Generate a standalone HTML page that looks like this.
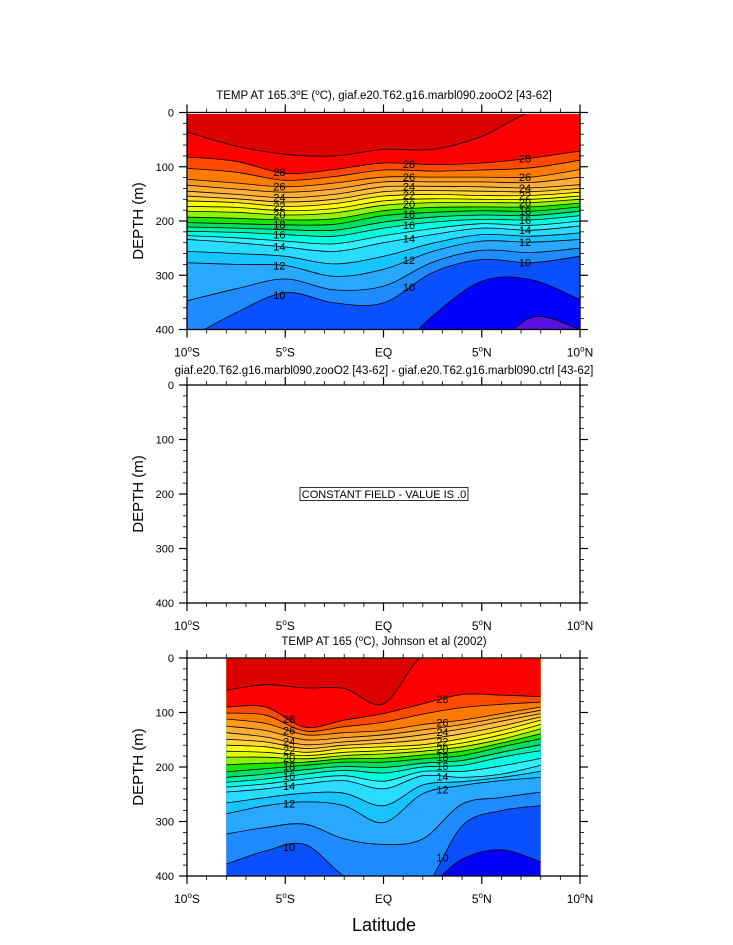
<!DOCTYPE html>
<html><head><meta charset="utf-8">
<style>
html,body{margin:0;padding:0;background:#fff;}
svg{display:block;font-family:"Liberation Sans",Arial,sans-serif;}
</style></head>
<body>
<svg id="fig" width="733" height="945" viewBox="0 0 733 945" xmlns="http://www.w3.org/2000/svg"></svg>
<script>
// ---------- data ----------
const modelLats = [-10,-7.5,-5,-2.5,0,2.5,5,7.5,10];
const obsLats = [-8,-6,-4,-2,0,2,4,6,8];
const contourLevels = [8,9,10,11,12,13,14,15,16,17,18,19,20,21,22,23,24,25,26,27,28,29];
// model isotherm depths (m) at modelLats
const mod8  = [520,520,520,520,520,520,460,378,400];
const mod9  = [480,480,480,480,460,375,311,308,345];
const mod10 = [418,369,332,351,351,295,271,277,265];
const mod11 = [347,325,307,327,320,276,254,258,250];
const mod12 = [277,280,282,302,289,256,237,239,234];
const mod13 = [256,260,265,279,265,241,225,228,222];
const mod14 = [234,240,248,256,240,225,213,217,209];
const mod15 = [227,231,237,242,227,214,205,208,200];
const mod16 = [219,221,225,228,213,202,197,198,190];
const mod17 = [211,213,216,217,202,193,189,190,182];
const mod18 = [203,205,207,206,190,184,181,182,174];
const mod19 = [193,195,198,196,181,175,174,174,167];
const mod20 = [182,184,189,185,171,166,166,166,160];
const mod21 = [173,175,181,177,163,159,160,160,154];
const mod22 = [163,166,173,168,154,151,153,153,147];
const mod23 = [154,159,165,160,146,144,145,146,140];
const mod24 = [145,151,157,151,137,136,137,139,133];
const mod25 = [134,141,147,141,128,128,128,129,119];
const mod26 = [123,130,137,130,119,119,119,119,105];
const mod27 = [103,110,125,118,106,108,106,102,88];
const mod28 = [82,90,112,105,93,96,93,84,71];
const mod29 = [36,62,77,80,68,68,44,0,0];
// observed isotherm depths (m) at obsLats
const obs8  = [440,440,440,440,440,440,440,440,440];
const obs9  = [430,430,430,430,430,425,369,352,374];
const obs10 = [378,354,342,400,425,425,308,280,271];
const obs11 = [323,311,305,332,342,332,268,256,246];
const obs12 = [286,271,264,271,302,249,234,225,219];
const obs13 = [266,256,248,248,271,233,227,219,208];
const obs14 = [246,240,231,225,240,216,219,213,197];
const obs15 = [237,231,222,216,226,208,208,198,184];
const obs16 = [228,222,213,206,211,200,197,182,170];
const obs17 = [219,213,205,199,201,193,188,173,159];
const obs18 = [209,203,197,191,191,185,179,163,148];
const obs19 = [196,193,191,185,184,178,171,156,139];
const obs20 = [182,182,185,179,176,171,163,149,130];
const obs21 = [171,173,179,173,170,165,156,141,122];
const obs22 = [160,163,173,166,163,159,148,133,114];
const obs23 = [149,154,166,160,156,150,139,125,108];
const obs24 = [137,145,159,154,149,141,130,116,102];
const obs25 = [125,133,150,146,141,132,122,109,96];
const obs26 = [112,120,141,137,133,122,114,102,90];
const obs27 = [101,105,134,126,118,103,91,85,81];
const obs28 = [90,90,127,114,102,84,67,68,71];
const obs29 = [59,49,55,56,84,-5,-5,-5,-5];
const bandColors = ['#0000ff','#0a50ff','#1e8cff','#28a8ff','#18c4ff','#28dcff','#30f0ff','#00ffe0','#00f0a8','#00e060','#18e800','#90f400','#e0ff00','#ffff00','#ffd830','#ffc040','#ffae38','#ff9a20','#ff7c00','#ff4a00','#ff0000','#dc0000'];
const coldColor = '#5a10e0';
const depthTicks = [0,100,200,300,400];
const latTicks = [-10,-5,0,5,10];
const latTickLabels = ['10°S','5°S','EQ','5°N','10°N'];
const modelLabelLevels = [28,26,24,22,20,18,16,14,12,10];
const modelLabelLats = [-5.3,1.3,7.2];
const obsLabelLevels = [28,26,24,22,20,18,16,14,12,10];
const obsLabelLats = [-4.8,3];
// ---------- rendering ----------
const NS='http://www.w3.org/2000/svg';
const svg=document.getElementById('fig');
const L=187,R=580;
function mk(tag,attrs,parent){const e=document.createElementNS(NS,tag);for(const k in attrs)e.setAttribute(k,attrs[k]);(parent||svg).appendChild(e);return e;}
function xScale(lat){return L+(lat+10)/20*(R-L);}
function makeY(top,bot){return d=>top+d/400*(bot-top);}
function interp(xs,ys,x){if(x<=xs[0])return ys[0];for(let i=1;i<xs.length;i++){if(x<=xs[i]){const t=(x-xs[i-1])/(xs[i]-xs[i-1]);return ys[i-1]+t*(ys[i]-ys[i-1]);}}return ys[ys.length-1];}
function smoothPath(pts){let d='M'+pts[0][0]+','+pts[0][1];for(let i=0;i<pts.length-1;i++){const p0=pts[Math.max(0,i-1)],p1=pts[i],p2=pts[i+1],p3=pts[Math.min(pts.length-1,i+2)];const c1=[p1[0]+(p2[0]-p0[0])/6,p1[1]+(p2[1]-p0[1])/6];const c2=[p2[0]-(p3[0]-p1[0])/6,p2[1]-(p3[1]-p1[1])/6];d+=' C'+c1[0].toFixed(1)+','+c1[1].toFixed(1)+' '+c2[0].toFixed(1)+','+c2[1].toFixed(1)+' '+p2[0].toFixed(1)+','+p2[1].toFixed(1);}return d;}

function axes(top,bot,prefix){
  const y=makeY(top,bot);
  const g=mk('g',{});  
  for(let d=0;d<=400;d+=20){const major=d%100===0;const len=major?8:4;const yy=y(d);
    mk('line',{x1:L-len,x2:L,y1:yy,y2:yy,stroke:'#000','stroke-width':major?1.2:0.8},g);
    mk('line',{x1:R,x2:R+len,y1:yy,y2:yy,stroke:'#000','stroke-width':major?1.2:0.8},g);}
  for(let lat=-10;lat<=10;lat+=1){const major=lat%5===0;const len=major?8:4;const xx=xScale(lat);
    mk('line',{x1:xx,x2:xx,y1:top-len,y2:top,stroke:'#000','stroke-width':major?1.2:0.8},g);
    mk('line',{x1:xx,x2:xx,y1:bot,y2:bot+len,stroke:'#000','stroke-width':major?1.2:0.8},g);}
  depthTicks.forEach(d=>{const t=mk('text',{x:L-13,y:y(d)+4,'text-anchor':'end','font-size':11},g);t.textContent=d;
    });
  latTicks.forEach((lat,i)=>{const t=mk('text',{x:xScale(lat),y:bot+27,'text-anchor':'middle','font-size':12},g);
    const s=latTickLabels[i];
    if(s.indexOf('°')>=0){const parts=s.split('°');const a=mk('tspan',{},t);a.textContent=parts[0];const b=mk('tspan',{dy:-5,'font-size':8},t);b.textContent='o';const c=mk('tspan',{dy:5},t);c.textContent=parts[1];}
    else t.textContent=s;
    });
  mk('rect',{x:L,y:top,width:R-L,height:bot-top,fill:'none',stroke:'#000','stroke-width':1.3},g);
  const yt=mk('text',{x:0,y:0,'text-anchor':'middle','font-size':15,transform:'translate(143,'+((top+bot)/2)+') rotate(-90)'},g);
  yt.textContent='DEPTH (m)';
  
}

function contourPanel(prefix,top,bot,lats,arrays,x0,x1,fillTopDepth,labelLevels,labelLats){
  const y=makeY(top,bot);
  const id='clip-'+prefix;
  const defs=mk('defs',{});const cp=mk('clipPath',{id:id},defs);
  mk('rect',{x:x0,y:y(fillTopDepth),width:x1-x0,height:bot-y(fillTopDepth)},cp);
  const g=mk('g',{'clip-path':'url(#'+id+')'});
  
  const bg=mk('rect',{x:x0,y:y(fillTopDepth),width:x1-x0,height:bot-y(fillTopDepth),fill:coldColor},g);
  
  const paths=[];
  contourLevels.forEach((lev,i)=>{
    const pts=lats.map((lat,j)=>[xScale(lat),y(Math.max(arrays[i][j],-5))]);
    const line=smoothPath(pts);
    paths.push(line);
    const xl=xScale(lats[0]),xr=xScale(lats[lats.length-1]);
    const d=line+' L'+xr+','+(top-20)+' L'+xl+','+(top-20)+' Z';
    const p=mk('path',{d:d,fill:bandColors[i],stroke:'none'},g);
    
  });
  paths.forEach((line,i)=>{const p=mk('path',{d:line,fill:'none',stroke:'#000','stroke-width':0.8},g);
    });
  labelLats.forEach(lat=>{labelLevels.forEach(lev=>{const i=contourLevels.indexOf(lev);
    const dd=interp(lats,arrays[i],lat);if(dd>395||dd<5)return;
    const t=mk('text',{x:xScale(lat),y:y(dd)+4,'text-anchor':'middle','font-size':11,fill:'#000'},g);t.textContent=lev;
    });});
}

function title(yb,parts,name){const t=mk('text',{x:384,y:yb,'text-anchor':'middle','font-size':11.5});
  parts.forEach(p=>{const s=mk('tspan',p.sup?{dy:-4,'font-size':8}:(p.down?{dy:4}:{}),t);s.textContent=p.t;});
  }

const modelArrays=[mod8,mod9,mod10,mod11,mod12,mod13,mod14,mod15,mod16,mod17,mod18,mod19,mod20,mod21,mod22,mod23,mod24,mod25,mod26,mod27,mod28,mod29];
const obsArrays=[obs8,obs9,obs10,obs11,obs12,obs13,obs14,obs15,obs16,obs17,obs18,obs19,obs20,obs21,obs22,obs23,obs24,obs25,obs26,obs27,obs28,obs29];
contourPanel('model',112.5,329.5,modelLats,modelArrays,L,R,3,modelLabelLevels,modelLabelLats);
axes(112.5,329.5,'model');
title(99,[{t:'TEMP AT 165.3'},{t:'o',sup:1},{t:'E (',down:1},{t:'o',sup:1},{t:'C), giaf.e20.T62.g16.marbl090.zooO2 [43-62]',down:1}],'model-title');
axes(385,603,'diff');
title(374,[{t:'giaf.e20.T62.g16.marbl090.zooO2 [43-62] - giaf.e20.T62.g16.marbl090.ctrl [43-62]'}],'diff-title');
const box=mk('rect',{x:300,y:487.5,width:168,height:13,fill:'#fff',stroke:'#000','stroke-width':0.8});

const bt=mk('text',{x:384,y:498,'text-anchor':'middle','font-size':11});bt.textContent='CONSTANT FIELD - VALUE IS .0';

contourPanel('obs',658,876,obsLats,obsArrays,xScale(-8),xScale(8),1.5,obsLabelLevels,obsLabelLats);
axes(658,876,'obs');
title(645,[{t:'TEMP AT 165 ('},{t:'o',sup:1},{t:'C), Johnson et al (2002)',down:1}],'obs-title');
const xt=mk('text',{x:384,y:931,'text-anchor':'middle','font-size':18});xt.textContent='Latitude';

</script>
</body></html>
